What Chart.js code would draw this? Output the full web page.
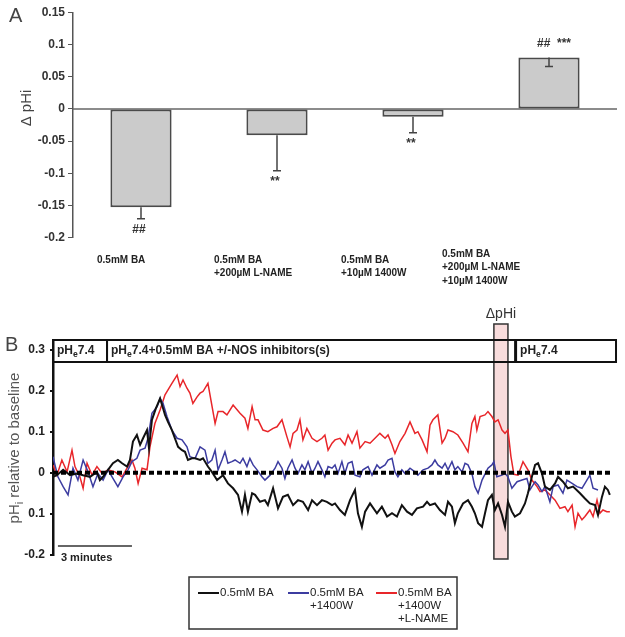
<!DOCTYPE html>
<html>
<head>
<meta charset="utf-8">
<script src="https://cdn.jsdelivr.net/npm/chart.js@4.4.1/dist/chart.umd.min.js"></script>
<style>
  body{margin:0;background:#fff;}
  #wrap{position:relative;width:625px;height:637px;}
  canvas{position:absolute;left:0;}
  #chartA{top:0;}
  #chartB{top:300px;}
</style>
</head>
<body>
<div id="wrap">
  <canvas id="chartA" width="625" height="300"></canvas>
  <canvas id="chartB" width="625" height="337"></canvas>
</div>
<script>
// ===== Panel A data =====
const barLabels = [
  ['0.5mM BA'],
  ['0.5mM BA','+200µM L-NAME'],
  ['0.5mM BA','+10µM 1400W'],
  ['0.5mM BA','+200µM L-NAME','+10µM 1400W']
];
const deltaPHi = [-0.153, -0.041, -0.012, 0.080];
const deltaSem = [0.018, 0.055, 0.025, 0.014];
const sigMarks = ['##', '**', '**', '##  ***'];
const aTickValues = [-0.2, -0.15, -0.1, -0.05, 0, 0.05, 0.1, 0.15];
const aTickLabels = ['-0.2', '-0.15', '-0.1', '-0.05', '0', '0.05', '0.1', '0.15'];

// ===== Panel B data (time in minutes, pHi relative to baseline) =====
const blackTime = [0, 0.16, 0.41, 0.69, 0.97, 1.22, 1.50, 1.78, 1.90, 2.03,
  2.23, 2.43, 2.63, 2.80, 3.00, 3.12, 3.24, 3.40, 3.53, 3.65,
  3.81, 3.89, 4.01, 4.17, 4.34, 4.46, 4.54, 4.66, 4.82, 4.94,
  5.07, 5.23, 5.35, 5.47, 5.63, 5.76, 5.96, 6.08, 6.28, 6.44,
  6.65, 6.89, 7.09, 7.30, 7.50, 7.66, 7.78, 7.90, 8.07, 8.19,
  8.39, 8.59, 8.71, 8.92, 9.12, 9.32, 9.52, 9.73, 9.93, 10.13,
  10.34, 10.50, 10.70, 10.90, 11.10, 11.31, 11.43, 11.63, 11.83, 12.04,
  12.24, 12.36, 12.52, 12.65, 12.85, 13.13, 13.33, 13.54, 13.74, 13.94,
  14.14, 14.35, 14.55, 14.75, 15.00, 15.16, 15.28, 15.48, 15.68, 15.89,
  16.01, 16.17, 16.29, 16.41, 16.62, 16.82, 16.98, 17.10, 17.23, 17.39,
  17.51, 17.63, 17.79, 17.91, 18.04, 18.20, 18.32, 18.44, 18.60, 18.72,
  18.93, 19.13, 19.25, 19.41, 19.54, 19.66, 19.82, 19.94, 20.14, 20.35,
  20.47, 20.67, 20.87, 21.08, 21.36, 21.56, 21.76, 21.97, 22.09, 22.25,
  22.37, 22.49, 22.57];
const blackVal = [-0.010, -0.006, 0.007, -0.006, -0.002, -0.006, -0.010, 0.002, -0.018, -0.010,
  0.007, 0.023, 0.031, 0.023, 0.015, 0.031, 0.076, 0.092, 0.068, 0.084,
  0.104, 0.060, 0.129, 0.157, 0.181, 0.157, 0.141, 0.124, 0.104, 0.084,
  0.063, 0.055, 0.051, 0.031, 0.035, 0.035, 0.031, 0.035, 0.015, 0.002,
  -0.018, -0.006, -0.026, -0.038, -0.054, -0.095, -0.054, -0.095, -0.050, -0.054,
  -0.071, -0.067, -0.079, -0.038, -0.087, -0.059, -0.054, -0.079, -0.067, -0.071,
  -0.091, -0.067, -0.079, -0.067, -0.071, -0.079, -0.075, -0.091, -0.103, -0.067,
  -0.042, -0.099, -0.132, -0.095, -0.075, -0.099, -0.083, -0.107, -0.099, -0.107,
  -0.079, -0.095, -0.103, -0.087, -0.083, -0.071, -0.079, -0.075, -0.091, -0.103,
  -0.071, -0.083, -0.123, -0.099, -0.075, -0.067, -0.083, -0.099, -0.123, -0.132,
  -0.099, -0.067, -0.054, -0.091, -0.075, -0.103, -0.132, -0.071, -0.095, -0.107,
  -0.099, -0.075, -0.050, -0.010, 0.019, 0.023, -0.002, -0.034, -0.042, -0.026,
  -0.010, -0.022, -0.038, -0.034, -0.050, -0.063, -0.075, -0.079, -0.103, -0.059,
  -0.034, -0.042, -0.054];

const blueTime = [0, 0.08, 0.20, 0.41, 0.61, 0.81, 1.01, 1.22, 1.42, 1.62,
  1.82, 2.03, 2.23, 2.43, 2.63, 2.84, 3.04, 3.20, 3.40, 3.53,
  3.73, 3.85, 4.01, 4.22, 4.34, 4.46, 4.62, 4.82, 5.03, 5.23,
  5.43, 5.55, 5.76, 5.96, 6.16, 6.28, 6.44, 6.57, 6.69, 6.85,
  6.97, 7.09, 7.25, 7.38, 7.58, 7.70, 7.86, 7.98, 8.11, 8.27,
  8.47, 8.59, 8.80, 9.00, 9.12, 9.28, 9.40, 9.52, 9.69, 9.81,
  9.93, 10.09, 10.21, 10.34, 10.50, 10.62, 10.74, 10.90, 11.02, 11.15,
  11.31, 11.43, 11.55, 11.71, 11.83, 11.96, 12.12, 12.24, 12.44, 12.56,
  12.77, 12.93, 13.13, 13.25, 13.46, 13.58, 13.74, 13.86, 13.98, 14.14,
  14.27, 14.47, 14.67, 14.79, 15.00, 15.20, 15.36, 15.48, 15.60, 15.77,
  15.89, 16.01, 16.17, 16.29, 16.41, 16.58, 16.70, 16.82, 16.98, 17.10,
  17.23, 17.39, 17.63, 17.79, 17.87, 17.99, 18.20, 18.32, 18.44, 18.60,
  18.81, 19.01, 19.21, 19.33, 19.54, 19.66, 19.82, 19.94, 20.14, 20.27,
  20.47, 20.67, 20.83, 21.04, 21.24, 21.44, 21.64, 21.76, 21.89, 22.09];
const blueVal = [0.039, 0.019, -0.010, -0.034, -0.054, 0.011, -0.018, 0.031, 0.002, -0.034,
  -0.002, -0.018, 0.007, -0.014, -0.034, -0.010, 0.007, 0.027, 0.035, 0.055,
  0.060, 0.084, 0.145, 0.161, 0.181, 0.169, 0.137, 0.104, 0.084, 0.080,
  0.063, 0.039, 0.035, 0.063, 0.055, 0.023, 0.031, 0.055, 0.007, 0.031,
  0.051, 0.023, 0.027, 0.031, 0.023, 0.035, 0.015, 0.035, 0.019, 0.007,
  -0.010, -0.018, -0.006, 0.011, 0.027, 0.011, -0.014, 0.011, 0.031, 0.011,
  -0.002, 0.019, 0.007, 0.027, -0.002, 0.011, 0.027, 0.007, -0.010, 0.015,
  0.011, 0.019, -0.002, 0.027, -0.002, 0.023, 0.027, -0.006, -0.010, 0.007,
  0.015, -0.006, 0.019, 0.011, 0.019, 0.031, 0.035, 0.002, -0.010, 0.007,
  -0.002, 0.011, 0.002, -0.006, 0.007, 0.011, 0.019, 0.031, 0.019, 0.011,
  0.023, 0.007, 0.027, 0.007, 0.015, 0.002, 0.023, 0.019, -0.002, -0.034,
  -0.050, -0.018, 0.011, 0.019, 0.027, -0.010, -0.006, -0.002, -0.010, -0.038,
  -0.022, -0.018, -0.014, -0.042, -0.022, -0.030, -0.046, -0.034, -0.071, -0.034,
  -0.030, -0.050, -0.018, -0.026, -0.034, -0.038, -0.018, -0.006, -0.038, -0.042];

const redTime = [0, 0.16, 0.36, 0.57, 0.77, 0.89, 1.09, 1.22, 1.38, 1.58,
  1.78, 1.99, 2.23, 2.51, 2.80, 3.00, 3.20, 3.32, 3.45, 3.61,
  3.81, 3.93, 4.13, 4.34, 4.54, 4.74, 4.82, 5.03, 5.15, 5.27,
  5.43, 5.55, 5.67, 5.84, 5.96, 6.08, 6.28, 6.57, 6.69, 6.89,
  7.05, 7.30, 7.58, 7.78, 7.90, 8.07, 8.19, 8.31, 8.51, 8.71,
  8.92, 9.08, 9.28, 9.48, 9.61, 9.73, 9.89, 10.01, 10.13, 10.29,
  10.50, 10.70, 10.90, 11.02, 11.15, 11.31, 11.43, 11.63, 11.83, 11.96,
  12.12, 12.32, 12.44, 12.65, 12.85, 13.05, 13.25, 13.46, 13.58, 13.74,
  13.86, 14.06, 14.27, 14.47, 14.67, 14.79, 14.96, 15.16, 15.28, 15.40,
  15.60, 15.77, 15.89, 16.01, 16.21, 16.41, 16.62, 16.82, 16.98, 17.10,
  17.18, 17.31, 17.51, 17.63, 17.79, 17.91, 18.04, 18.20, 18.32, 18.44,
  18.56, 18.68, 18.85, 19.05, 19.25, 19.41, 19.62, 19.74, 19.94, 20.14,
  20.35, 20.55, 20.75, 20.87, 21.04, 21.16, 21.28, 21.44, 21.56, 21.76,
  21.89, 22.05, 22.17, 22.29, 22.45, 22.57];
const redVal = [0.019, -0.006, 0.031, 0.002, 0.055, 0.015, -0.010, -0.038, 0.023, -0.006,
  0.015, -0.002, 0.007, 0.002, -0.010, 0.011, 0.031, 0.011, -0.026, 0.011,
  0.007, 0.063, 0.120, 0.153, 0.190, 0.210, 0.218, 0.238, 0.210, 0.226,
  0.206, 0.194, 0.169, 0.185, 0.194, 0.198, 0.218, 0.120, 0.149, 0.149,
  0.141, 0.165, 0.145, 0.133, 0.108, 0.161, 0.129, 0.129, 0.104, 0.100,
  0.108, 0.112, 0.129, 0.088, 0.063, 0.096, 0.104, 0.129, 0.080, 0.108,
  0.084, 0.076, 0.084, 0.092, 0.055, 0.072, 0.080, 0.084, 0.068, 0.092,
  0.072, 0.100, 0.060, 0.076, 0.072, 0.084, 0.096, 0.084, 0.092, 0.068,
  0.047, 0.076, 0.096, 0.124, 0.096, 0.100, 0.080, 0.051, 0.116, 0.129,
  0.141, 0.072, 0.084, 0.104, 0.100, 0.092, 0.072, 0.051, 0.120, 0.137,
  0.104, 0.137, 0.141, 0.149, 0.137, 0.124, 0.129, 0.104, 0.096, 0.104,
  0.040, -0.004, -0.006, 0.027, 0.007, -0.018, -0.034, -0.046, -0.042, -0.054,
  -0.067, -0.087, -0.083, -0.095, -0.079, -0.132, -0.099, -0.115, -0.107, -0.091,
  -0.107, -0.067, -0.099, -0.091, -0.095, -0.095];

const seriesNames = [['0.5mM BA'], ['0.5mM BA','+1400W'], ['0.5mM BA','+1400W','+L-NAME']];
const seriesColors = ['#111111', '#3c3ca0', '#e8262a'];

// solution phases (minutes) and the ΔpHi read-out window
const phaseStart = [0, 2.19, 18.77];
const phaseEnd = [2.19, 18.73, 22.82];
const phaseText = ['7.4', '7.4+0.5mM BA +/-NOS inhibitors(s)', '7.4'];
const windowStart = 17.87, windowEnd = 18.44;
const scaleBarStart = 0.2, scaleBarMinutes = 3;
const timeMax = 22.86, zeroLineEnd = 22.66;
const bTickValues = [-0.2, -0.1, 0, 0.1, 0.2, 0.3];
const bTickLabels = ['-0.2', '0.1', '0', '0.1', '0.2', '0.3'];

const FONT = "'Liberation Sans', Arial, Helvetica, sans-serif";

// text with a subscript part: parts = [{t:'pH'},{t:'e',sub:true},{t:'7.4'}]
function richWidth(ctx, parts, size, weight){
  let w = 0;
  parts.forEach(p=>{ ctx.font = `${weight} ${p.sub?size*0.72:size}px ${FONT}`; w += ctx.measureText(p.t).width; });
  return w;
}
function drawRich(ctx, parts, x, y, size, weight, color){
  ctx.fillStyle = color; ctx.textAlign = 'left'; ctx.textBaseline = 'middle';
  parts.forEach(p=>{
    ctx.font = `${weight} ${p.sub?size*0.72:size}px ${FONT}`;
    ctx.fillText(p.t, x, p.sub ? y + size*0.32 : y);
    x += ctx.measureText(p.t).width;
  });
}

// ===== Panel A =====
const labelShift = [-44, -63, -72, -107];
const panelAPlugin = {
  id:'panelA',
  beforeDatasetsDraw(chart){
    const {ctx, chartArea:a, scales:{y}} = chart;
    const y0 = y.getPixelForValue(0);
    ctx.save();
    ctx.strokeStyle = '#666'; ctx.lineWidth = 1.5;
    ctx.beginPath(); ctx.moveTo(a.left, y0); ctx.lineTo(a.right, y0); ctx.stroke();
    ctx.restore();
  },
  afterDatasetsDraw(chart){
    const {ctx, scales:{x, y}} = chart;
    ctx.save();
    deltaPHi.forEach((v,i)=>{
      const xc = x.getPixelForValue(i);
      const y1 = y.getPixelForValue(v);
      const y2 = y.getPixelForValue(v - deltaSem[i]);
      ctx.strokeStyle = '#444'; ctx.lineWidth = 1.5;
      ctx.beginPath(); ctx.moveTo(xc, y1); ctx.lineTo(xc, y2);
      ctx.moveTo(xc-4, y2); ctx.lineTo(xc+4, y2); ctx.stroke();
      // significance marks
      ctx.fillStyle = '#333'; ctx.font = `bold 12px ${FONT}`;
      ctx.textAlign = 'center'; ctx.textBaseline = 'middle';
      if(v < 0) ctx.fillText(sigMarks[i], xc-2, y2 + 11);
      else ctx.fillText(sigMarks[i], xc+5, y1 - 14);
      // category labels
      ctx.font = `bold 10px ${FONT}`; ctx.fillStyle = '#222'; ctx.textAlign = 'left';
      const top = barLabels[i].length > 2 ? 254 : 260;
      barLabels[i].forEach((line,k)=> ctx.fillText(line, xc + labelShift[i], top + k*13.5));
    });
    // axis title and panel letter
    ctx.save();
    ctx.translate(27, 108); ctx.rotate(-Math.PI/2);
    ctx.font = `15px ${FONT}`; ctx.fillStyle = '#444'; ctx.textAlign = 'center'; ctx.textBaseline = 'middle';
    ctx.fillText('Δ pHi', 0, 0);
    ctx.restore();
    ctx.font = `20px ${FONT}`; ctx.fillStyle = '#444'; ctx.textAlign = 'left'; ctx.textBaseline = 'middle';
    ctx.fillText('A', 9, 16);
    ctx.restore();
  }
};

new Chart(document.getElementById('chartA'), {
  type:'bar',
  data:{
    labels: barLabels.map(l=>l.join(' ')),
    datasets:[{
      data: deltaPHi,
      backgroundColor:'#cbcbcb', borderColor:'#4a4a4a', borderWidth:2, borderSkipped:false,
      barPercentage:0.45, categoryPercentage:1
    }]
  },
  options:{
    responsive:false, animation:false,
    layout:{padding:{top:12.5, bottom:62.5, left:0, right:8}},
    plugins:{legend:{display:false}, tooltip:{enabled:false}},
    scales:{
      x:{display:false},
      y:{
        min:-0.2, max:0.15,
        afterFit(s){ s.width = 73; },
        afterBuildTicks(s){ s.ticks = aTickValues.map(v=>({value:v})); },
        ticks:{callback:(v,i)=>aTickLabels[i], font:{family:FONT, size:12, weight:'bold'}, color:'#333', padding:3},
        grid:{drawOnChartArea:false, drawTicks:true, tickLength:5, color:'#555'},
        border:{color:'#555', width:1.5}
      }
    }
  },
  plugins:[panelAPlugin]
});

// ===== Panel B =====
const panelBPlugin = {
  id:'panelB',
  beforeDatasetsDraw(chart){
    const {ctx, scales:{x}} = chart;
    ctx.save();
    // ΔpHi window
    const wx1 = x.getPixelForValue(windowStart), wx2 = x.getPixelForValue(windowEnd);
    ctx.fillStyle = '#f8dcdc'; ctx.fillRect(wx1, 24, wx2-wx1, 235);
    ctx.strokeStyle = '#333'; ctx.lineWidth = 1.5; ctx.strokeRect(wx1, 24, wx2-wx1, 235);
    ctx.font = `14px ${FONT}`; ctx.fillStyle = '#333'; ctx.textAlign = 'center'; ctx.textBaseline = 'middle';
    ctx.fillText('ΔpHi', (wx1+wx2)/2, 14);
    // solution phase boxes
    phaseStart.forEach((s,i)=>{
      const x1 = x.getPixelForValue(s), x2 = x.getPixelForValue(phaseEnd[i]);
      ctx.strokeStyle = '#111'; ctx.lineWidth = 2;
      ctx.strokeRect(x1, 40, x2-x1, 22);
      drawRich(ctx, [{t:'pH'},{t:'e',sub:true},{t:phaseText[i]}], x1+4, 51, 12, 'bold', '#222');
    });
    ctx.restore();
  },
  afterDatasetsDraw(chart){
    const {ctx, scales:{x, y}} = chart;
    ctx.save();
    // baseline
    const y0 = y.getPixelForValue(0);
    ctx.strokeStyle = '#000'; ctx.lineWidth = 4; ctx.setLineDash([5,3]);
    ctx.beginPath(); ctx.moveTo(x.getPixelForValue(0), y0); ctx.lineTo(x.getPixelForValue(zeroLineEnd), y0); ctx.stroke();
    ctx.setLineDash([]);
    // time scale bar
    ctx.strokeStyle = '#333'; ctx.lineWidth = 1.5;
    ctx.beginPath();
    ctx.moveTo(x.getPixelForValue(scaleBarStart), 246);
    ctx.lineTo(x.getPixelForValue(scaleBarStart + scaleBarMinutes), 246); ctx.stroke();
    ctx.font = `bold 11px ${FONT}`; ctx.fillStyle = '#222'; ctx.textAlign = 'left'; ctx.textBaseline = 'middle';
    ctx.fillText(scaleBarMinutes + ' minutes', x.getPixelForValue(scaleBarStart) + 3, 258);
    // legend
    ctx.strokeStyle = '#333'; ctx.lineWidth = 1.5;
    ctx.strokeRect(189, 277, 268, 52);
    const legX = [198, 288, 376];
    seriesNames.forEach((lines,i)=>{
      ctx.strokeStyle = seriesColors[i]; ctx.lineWidth = 2;
      ctx.beginPath(); ctx.moveTo(legX[i], 293); ctx.lineTo(legX[i]+21, 293); ctx.stroke();
      ctx.font = `11.5px ${FONT}`; ctx.fillStyle = '#222'; ctx.textAlign = 'left'; ctx.textBaseline = 'middle';
      lines.forEach((t,k)=> ctx.fillText(t, legX[i]+22, 293 + k*13));
    });
    // y title
    const parts = [{t:'pH'},{t:'i',sub:true},{t:' relative to baseline'}];
    ctx.save();
    ctx.translate(15, 148); ctx.rotate(-Math.PI/2);
    const w = richWidth(ctx, parts, 15, 'normal');
    drawRich(ctx, parts, -w/2, 0, 15, 'normal', '#555');
    ctx.restore();
    ctx.font = `20px ${FONT}`; ctx.fillStyle = '#444'; ctx.textAlign = 'left'; ctx.textBaseline = 'middle';
    ctx.fillText('B', 5, 45);
    ctx.restore();
  }
};

const traces = [[blackTime, blackVal, 2], [blueTime, blueVal, 1.5], [redTime, redVal, 1.5]];
new Chart(document.getElementById('chartB'), {
  type:'line',
  data:{
    datasets: traces.map((tr,i)=>({
      data: tr[0].map((t,k)=>({x:t, y:tr[1][k]})),
      borderColor: seriesColors[i], borderWidth: tr[2],
      pointRadius:0, tension:0, fill:false
    }))
  },
  options:{
    responsive:false, animation:false,
    layout:{padding:{top:41.5, bottom:82.3, left:0, right:8}},
    plugins:{legend:{display:false}, tooltip:{enabled:false}},
    scales:{
      x:{type:'linear', min:0, max:timeMax, display:false},
      y:{
        min:-0.2, max:0.32,
        afterFit(s){ s.width = 53; },
        afterBuildTicks(s){ s.ticks = bTickValues.map(v=>({value:v})); },
        ticks:{callback:(v,i)=>bTickLabels[i], font:{family:FONT, size:12, weight:'bold'}, color:'#222', padding:5},
        grid:{drawOnChartArea:false, drawTicks:true, tickLength:3, color:'#111', lineWidth:2},
        border:{color:'#111', width:2.5}
      }
    }
  },
  plugins:[panelBPlugin]
});
</script>
</body>
</html>
